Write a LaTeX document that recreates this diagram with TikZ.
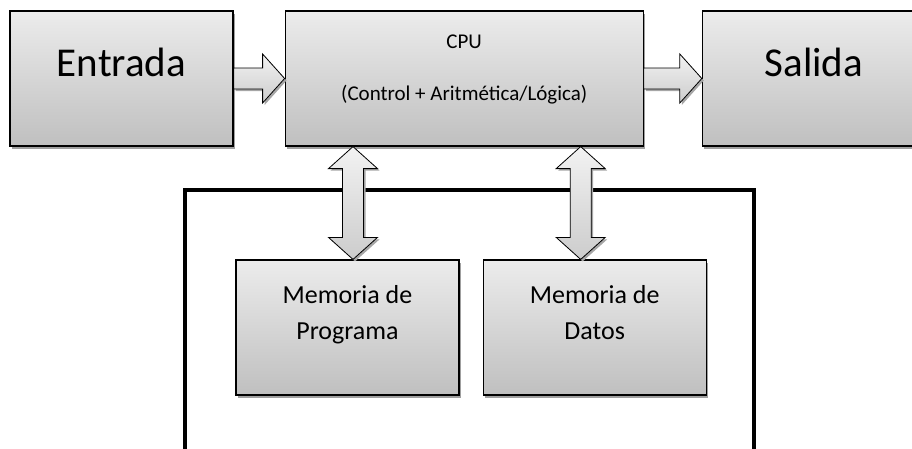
\documentclass[tikz,border=0pt]{standalone}
\usepackage{fontspec}
\setmainfont{Carlito}
\usetikzlibrary{calc, positioning, shadows}
\tikzset{
  block/.style={draw, line width=1.2pt, top color=gray!15, bottom color=gray!50,
    drop shadow={shadow xshift=2pt, shadow yshift=-3pt, fill=gray!75, opacity=1},
    minimum width=223pt, minimum height=135pt, inner sep=0pt, align=center},
  io/.style={block, font=\fontsize{41}{49}\selectfont, text height=30pt, text depth=35pt},
  mem/.style={block, font=\fontsize{26}{36}\selectfont, text height=55pt, text depth=32pt},
  cpu/.style={block, minimum width=358pt, font=\fontsize{21}{26}\selectfont, text height=65pt, text depth=22pt},
  fatline/.style={draw, line width=0.8pt, top color=gray!10, bottom color=gray!40,
    drop shadow={shadow xshift=2pt, shadow yshift=-2pt, fill=gray!70, opacity=1}},
  fat/.style={fatline, to path={let \p1=(\tikztostart), \p2=(\tikztotarget),
    \n1={atan2(\y2-\y1,\x2-\x1)} in
    ($(\p1)+(\n1+90:10.5pt)$) -- ($(\p2)+(\n1:-22pt)+(\n1+90:10.5pt)$)
    -- ($(\p2)+(\n1:-22pt)+(\n1+90:24.5pt)$) -- (\p2)
    -- ($(\p2)+(\n1:-22pt)+(\n1-90:24.5pt)$) -- ($(\p2)+(\n1:-22pt)+(\n1-90:10.5pt)$)
    -- ($(\p1)+(\n1-90:10.5pt)$) -- cycle}},
  fatboth/.style={fatline, to path={let \p1=(\tikztostart), \p2=(\tikztotarget),
    \n1={atan2(\y2-\y1,\x2-\x1)} in
    ($(\p1)+(\n1:22pt)+(\n1+90:10.5pt)$) -- ($(\p2)+(\n1:-22pt)+(\n1+90:10.5pt)$)
    -- ($(\p2)+(\n1:-22pt)+(\n1+90:24.5pt)$) -- (\p2)
    -- ($(\p2)+(\n1:-22pt)+(\n1-90:24.5pt)$) -- ($(\p2)+(\n1:-22pt)+(\n1-90:10.5pt)$)
    -- ($(\p1)+(\n1:22pt)+(\n1-90:10.5pt)$) -- ($(\p1)+(\n1:22pt)+(\n1-90:24.5pt)$)
    -- (\p1) -- ($(\p1)+(\n1:22pt)+(\n1+90:24.5pt)$) -- cycle}},
}

\begin{document}
\begin{tikzpicture}[x=1pt, y=1pt]
  \useasboundingbox (0,-448) rectangle (912,0);

  % memory frame, open at the bottom
  \draw[line width=4pt] (185,-470) -- (185,-190) -- (754,-190) -- (754,-470);

  \node[io] (entrada) at (121.5,-78.5) {Entrada};
  \node[cpu, right=51pt of entrada] (cpu) {CPU\\[26pt](Control + Aritmética/Lógica)};
  \node[io, right=58pt of cpu] (salida) {Salida};

  \node[mem] (prog) at (347.5,-327.5) {Memoria de\\Programa};
  \node[mem, right=23pt of prog] (datos) {Memoria de\\Datos};

  \draw[fat] (entrada.east) to (cpu.west);
  \draw[fat] (cpu.east) to (salida.west);
  \draw[fatboth] ([xshift=5.5pt]prog.north) to ([xshift=5.5pt]prog.north |- cpu.south);
  \draw[fatboth] ([xshift=-14pt]datos.north) to ([xshift=-14pt]datos.north |- cpu.south);
\end{tikzpicture}
\end{document}
